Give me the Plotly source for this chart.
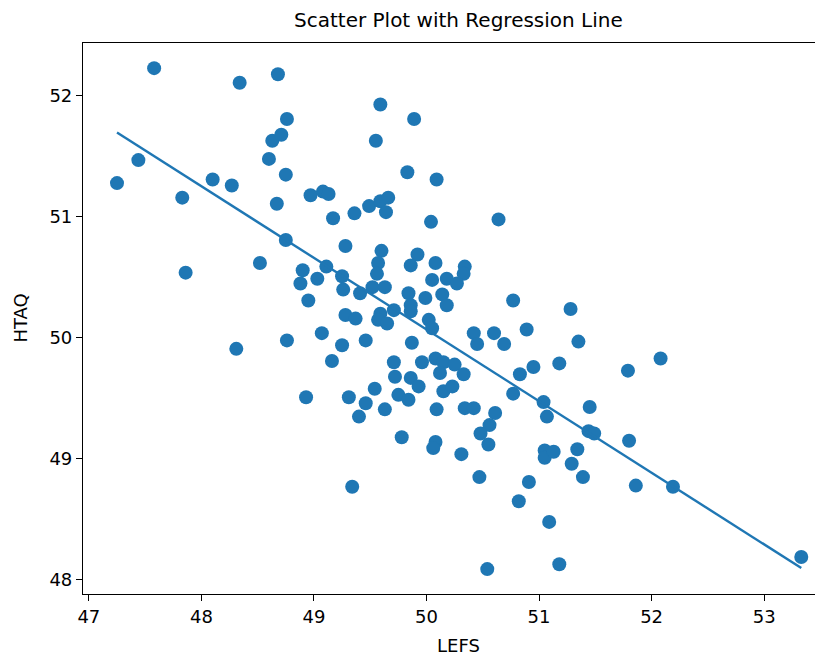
import plotly.graph_objects as go
import numpy as np

lefs = [47.25, 47.44, 47.58, 47.83, 47.86, 48.10, 48.27, 48.34, 48.31, 48.52,
        48.60, 48.63, 48.68, 48.71, 48.67, 48.76, 48.75, 48.75, 48.76, 48.90,
        48.88, 48.95, 48.93, 48.97, 49.08, 49.13, 49.07, 49.11, 49.03, 49.16,
        49.17, 49.28, 49.36, 49.49, 49.59, 49.66, 49.64, 49.59, 49.89, 49.55,
        49.83, 50.09, 50.04, 50.64, 49.60, 49.57, 49.56, 49.92, 49.86, 50.08,
        50.34, 50.33, 50.05, 50.18, 50.27, 49.25, 49.26, 49.41, 49.52, 49.63,
        49.84, 49.86, 49.86, 49.99, 50.14, 50.18, 49.71, 49.59, 49.57, 49.65,
        49.28, 49.37, 50.02, 50.05, 50.42, 50.60, 50.77, 50.89, 50.45, 50.69,
        49.25, 49.46, 49.87, 49.71, 49.96, 50.08, 50.15, 50.12, 50.25, 50.33,
        49.72, 49.86, 49.93, 49.54, 50.15, 50.23, 49.31, 49.46, 49.75, 49.84,
        49.63, 50.09, 50.34, 50.42, 50.61, 49.40, 50.56, 50.48, 49.78, 50.08,
        50.06, 50.31, 50.55, 50.47, 50.91, 50.82, 49.34, 51.09, 50.54, 50.95,
        50.83, 50.77, 51.04, 51.07, 51.05, 51.05, 51.28, 51.35, 51.18, 51.79,
        52.08, 51.45, 51.44, 51.49, 51.80, 51.13, 51.34, 51.29, 51.39, 51.86,
        52.19, 51.18, 53.33]

htaq = [51.28, 51.47, 52.23, 51.16, 50.54, 51.31, 51.26, 52.11, 49.91, 50.62,
        51.48, 51.63, 52.18, 51.68, 51.11, 51.81, 51.35, 50.81, 49.98, 50.56,
        50.45, 50.31, 49.51, 51.18, 51.21, 51.19, 50.04, 50.59, 50.49, 49.81,
        50.99, 50.76, 51.03, 51.09, 51.13, 51.16, 51.04, 51.93, 51.81, 51.63,
        51.37, 51.31, 50.96, 50.98, 50.72, 50.62, 50.53, 50.69, 50.60, 50.62,
        50.59, 50.53, 50.48, 50.49, 50.45, 50.51, 50.40, 50.37, 50.42, 50.42,
        50.37, 50.27, 50.22, 50.33, 50.36, 50.27, 50.23, 50.20, 50.15, 50.12,
        50.19, 50.16, 50.15, 50.08, 50.04, 50.04, 50.31, 50.07, 49.95, 49.95,
        49.94, 49.98, 49.96, 49.80, 49.80, 49.83, 49.80, 49.71, 49.78, 49.70,
        49.68, 49.67, 49.60, 49.58, 49.56, 49.60, 49.51, 49.46, 49.53, 49.49,
        49.41, 49.41, 49.42, 49.42, 49.38, 49.35, 49.28, 49.21, 49.18, 49.14,
        49.09, 49.04, 49.12, 48.85, 48.81, 48.65, 48.77, 48.48, 48.09, 49.76,
        49.70, 49.54, 49.47, 49.35, 49.07, 49.01, 50.24, 49.97, 49.79, 49.73,
        49.83, 49.43, 49.23, 49.21, 49.15, 49.06, 49.08, 48.96, 48.85, 48.78,
        48.77, 48.13, 48.19]

# regression line
slope = -0.592
intercept = 79.67

x_ticks = [47, 48, 49, 50, 51, 52, 53]
y_ticks = [48, 49, 50, 51, 52]

blue = "#1f77b4"
font_family = "DejaVu Sans"

line_x = np.array([min(lefs), max(lefs)])
line_y = intercept + slope * line_x

fig = go.Figure()
fig.add_trace(go.Scatter(
    x=lefs, y=htaq, mode="markers",
    marker=dict(color=blue, size=14, line=dict(width=0)),
    showlegend=False, hoverinfo="skip"))
fig.add_trace(go.Scatter(
    x=line_x, y=line_y, mode="lines",
    line=dict(color=blue, width=2.4),
    showlegend=False, hoverinfo="skip"))

axis_common = dict(
    showgrid=False, zeroline=False, showline=True, linecolor="black",
    linewidth=1.2, ticks="outside", ticklen=6, tickwidth=1.2,
    tickcolor="black", tickfont=dict(family=font_family, size=18, color="black"))

# the page body has an 8px margin, so the figure is 8px smaller than the window
fig.update_layout(
    width=815, height=650,
    margin=dict(l=75, r=0, t=35, b=64, pad=0),
    paper_bgcolor="white", plot_bgcolor="white",
    font=dict(family=font_family, color="black"),
    xaxis=dict(range=[46.948, 53.523], tickvals=x_ticks,
               ticktext=[str(v) for v in x_ticks], mirror=True, **axis_common),
    yaxis=dict(range=[47.884, 52.438], tickvals=y_ticks,
               ticktext=[str(v) for v in y_ticks], mirror=False, **axis_common),
    annotations=[
        dict(text="Scatter Plot with Regression Line", xref="paper", yref="paper",
             x=0.508, y=1.0417, xanchor="center", yanchor="middle",
             showarrow=False, font=dict(family=font_family, size=20, color="black")),
        dict(text="LEFS", xref="paper", yref="paper",
             x=0.508, y=-0.0926, xanchor="center", yanchor="middle",
             showarrow=False, font=dict(family=font_family, size=18, color="black")),
        dict(text="HTAQ", xref="paper", yref="paper",
             x=-0.085, y=0.5, xanchor="center", yanchor="middle", textangle=-90,
             showarrow=False, font=dict(family=font_family, size=18, color="black")),
    ],
)

fig.write_html("out.html")
